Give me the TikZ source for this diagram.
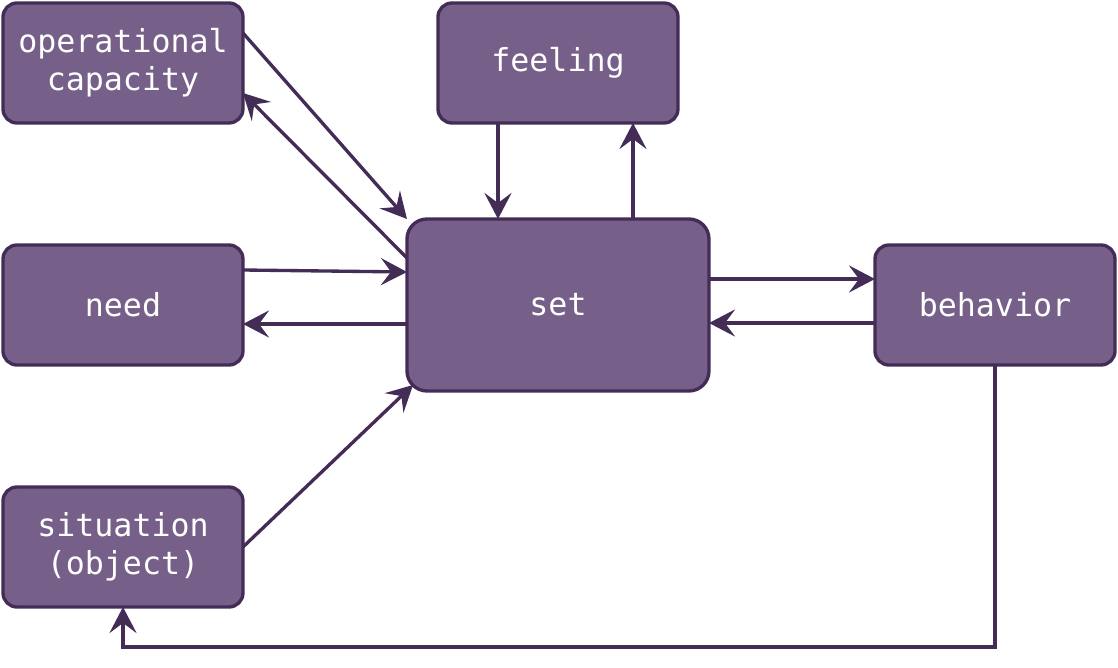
\documentclass[tikz,border=0pt]{standalone}
\usepackage{fontspec}
\setmonofont{DejaVu Sans Mono}
\usepackage{tikz}
\usetikzlibrary{arrows.meta,positioning,calc}
\definecolor{boxfill}{HTML}{76608A}
\definecolor{boxline}{HTML}{432D57}
\tikzset{
    box/.style={
        draw=boxline,
        line width=1.9pt,
        outer sep=0pt,
        rounded corners=0.28cm,
        align=center,
        minimum height=24mm,
        minimum width=48mm,
        fill=boxfill,
        text=white,
        font=\ttfamily\fontsize{18}{21.6}\selectfont
    },
    setbox/.style={
        box,
        rounded corners=0.4cm,
        minimum height=34.4mm,
        minimum width=60.4mm
    },
    flow/.style={-{Stealth[length=5.2mm,width=5.4mm,inset=2mm]}, line width=1.9pt, draw=boxline}
}

\begin{document}
\begin{tikzpicture}
        \useasboundingbox (-11.16,6.1) rectangle (11.2,-7.26);
        \node[setbox] (set) {set};
        \node[box, left=3.28cm of set] (need) {need};
        \node[box, right=3.32cm of set] (behavior) {behavior};
        \node[box, above=1.92cm of set] (feeling) {feeling};
        \node[box, above=2.44cm of need] (opcap) {operational\\capacity};
        \node[box, below=2.44cm of need] (situation) {situation\\(object)};

        \draw[flow] ($(opcap.east)+(0,0.6)$) -- (set.north west);
        \draw[flow] ($(set.west)+(0,0.94)$) -- ($(opcap.east)+(0,-0.6)$);
        \draw[flow] ($(feeling.south)+(-1.2,0)$) -- ($(set.north)+(-1.2,0)$);
        \draw[flow] ($(set.north)+(1.5,0)$) -- ($(feeling.south)+(1.5,0)$);
        \draw[flow] ($(need.east)+(0,0.7)$) -- ($(set.west)+(0,0.66)$);
        \draw[flow] ($(set.west)+(0,-0.38)$) -- ($(need.east)+(0,-0.38)$);
        \draw[flow] ($(set.east)+(0,0.52)$) -- ($(behavior.west)+(0,0.52)$);
        \draw[flow] ($(behavior.west)+(0,-0.36)$) -- ($(set.east)+(0,-0.36)$);
        \draw[flow] (situation.east) -- ($(set.south west)+(0.12,0.12)$);
        \draw[flow] (behavior.south) |- ($(situation.south)+(0,-0.8)$) -- (situation.south);
    \end{tikzpicture}
\end{document}
